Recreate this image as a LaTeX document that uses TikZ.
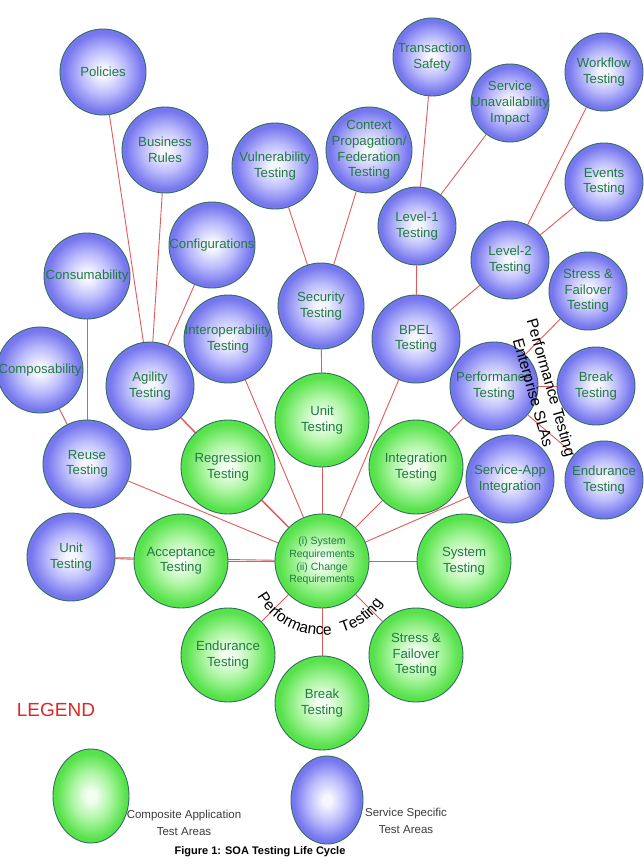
\documentclass[tikz,border=0pt]{standalone}
\usepackage{fontspec}
\setmainfont{Liberation Sans}
\usetikzlibrary{decorations.text,backgrounds,shapes.geometric}
\definecolor{bEdge}{RGB}{118,118,238}
\definecolor{bMid}{RGB}{188,188,252}
\definecolor{bIn}{RGB}{246,246,255}
\definecolor{gEdge}{RGB}{86,226,74}
\definecolor{gMid}{RGB}{170,245,160}
\definecolor{gIn}{RGB}{242,255,240}
\definecolor{ringc}{RGB}{52,108,96}
\definecolor{txtc}{RGB}{34,122,66}
\definecolor{linec}{RGB}{224,92,92}
\definecolor{legc}{RGB}{222,40,40}
\definecolor{grayt}{RGB}{60,60,60}
\pgfdeclareradialshading{bluesh}{\pgfpoint{0bp}{0bp}}{color(0bp)=(bIn); color(3bp)=(bIn); color(13bp)=(bMid); color(23bp)=(bEdge); color(50bp)=(bEdge)}
\pgfdeclareradialshading{greensh}{\pgfpoint{0bp}{0bp}}{color(0bp)=(gIn); color(3bp)=(gIn); color(13bp)=(gMid); color(23bp)=(gEdge); color(50bp)=(gEdge)}
\newcommand\arcfnt{\fontsize{15.5}{15.5}\selectfont}
\tikzset{
  bub/.style={circle, draw=ringc, line width=0.9pt, inner sep=-14pt, minimum size=#1,
              text=txtc, align=center, font=\fontsize{13.2}{15.6}\selectfont},
  bb/.style={bub=#1, shading=bluesh},
  gb/.style={bub=#1, shading=greensh},
  conn/.style={draw=linec, line width=0.9pt},
  legtxt/.style={text=grayt, align=center, font=\fontsize{11.5}{16.5}\selectfont},
}
\begin{document}
\begin{tikzpicture}[x=1pt,y=-1pt]
\useasboundingbox (0,0) rectangle (644,867);
% blue service-specific nodes
\node[bb=86pt] (pol) at (103,72) {Policies};
\node[bb=86pt] (bus) at (165,150) {Business\\Rules};
\node[bb=86pt] (vul) at (275,166) {Vulnerability\\Testing};
\node[bb=78pt] (trs) at (432,57) {Transaction\\Safety};
\node[bb=78pt] (sua) at (510,103) {Service\\Unavailability\\Impact};
\node[bb=78pt] (wfl) at (604,72) {Workflow\\Testing};
\node[bb=86pt] (ctx) at (369,150) {Context\\Propagation/\\Federation\\Testing};
\node[bb=78pt] (evt) at (604,182) {Events\\Testing};
\node[bb=78pt] (lv1) at (417,226) {Level-1\\Testing};
\node[bb=78pt] (lv2) at (510,260) {Level-2\\Testing};
\node[bb=78pt] (sfb) at (588,291) {Stress \&\\Failover\\Testing};
\node[bb=88pt] (bpl) at (416,339) {BPEL\\Testing};
\node[bb=88pt] (pfb) at (494,386) {Performance\\Testing};
\node[bb=78pt] (brb) at (596,386) {Break\\Testing};
\node[bb=86pt] (sec) at (321,306) {Security\\Testing};
\node[bb=86pt] (cfg) at (212,245) {Configurations};
\node[bb=86pt] (cns) at (87,276) {Consumability};
\node[bb=86pt] (cmp) at (40,370) {Composability};
\node[bb=88pt] (agl) at (150,386) {Agility\\Testing};
\node[bb=88pt] (itp) at (228,339) {Interoperability\\Testing};
\node[bb=88pt] (reu) at (87,464) {Reuse\\Testing};
\node[bb=88pt] (utb) at (71,557) {Unit\\Testing};
\node[bb=88pt] (sai) at (510,479) {Service-App\\Integration};
\node[bb=78pt] (enb) at (604,480) {Endurance\\Testing};
% green composite application nodes
\node[gb=94pt] (utg) at (322,420) {Unit\\Testing};
\node[gb=94pt] (reg) at (228,467) {Regression\\Testing};
\node[gb=94pt] (int) at (416,467) {Integration\\Testing};
\node[gb=94pt] (acc) at (181,561) {Acceptance\\Testing};
\node[gb=94pt, font=\fontsize{10.5}{12.7}\selectfont] (cen) at (322,561) {(i) System\\Requirements\\(ii) Change\\Requirements};
\node[gb=94pt] (sys) at (464,561) {System\\Testing};
\node[gb=94pt] (eng) at (228,655) {Endurance\\Testing};
\node[gb=94pt] (brg) at (322,703) {Break\\Testing};
\node[gb=94pt] (sfg) at (416,655) {Stress \&\\Failover\\Testing};
% connectors
\begin{pgfonlayer}{background}
\fill[white] (0,0) rectangle (644,867);
\foreach \a/\b in {pol/agl, bus/agl, cfg/agl, cns/reu, cmp/reu, agl/reg, agl/cen, itp/cen,
  vul/sec, ctx/sec, sec/utg, utg/cen, trs/lv1, sua/lv1, lv1/bpl, wfl/lv2, evt/lv2, lv2/bpl,
  bpl/cen, pfb/int, sfb/pfb, brb/pfb, enb/pfb, sai/cen, int/cen, reg/cen, reu/cen,
  utb/acc, utb/cen, acc/cen, sys/cen, cen/eng, cen/brg, cen/sfg}
  \draw[conn] (\a) -- (\b);
\end{pgfonlayer}
% curved labels
\path[decorate, decoration={text along path, text align=left, text={|\arcfnt|Performance}}]
  (cen.center) ++(151:74) arc[start angle=151, end angle=55, radius=74];
\path[decorate, decoration={text along path, text align=left, text={|\arcfnt|Testing}}]
  (cen.center) ++(74:74) arc[start angle=74, end angle=10, radius=74];
\node[rotate=-74, font=\fontsize{15.5}{15.5}\selectfont] (ptx) at (550,388) {Performance Testing};
\node[rotate=-74, font=\fontsize{15.5}{15.5}\selectfont] (esl) at (532,393) {Enterprise SLAs};
% legend
\node[text=legc, font=\fontsize{19}{19}\selectfont] (leg) at (56,710) {LEGEND};
\node[ellipse, draw=ringc, line width=0.9pt, inner sep=0pt, minimum width=76pt, minimum height=94pt, shading=greensh] (lg) at (91,796) {};
\node[ellipse, draw=ringc, line width=0.9pt, inner sep=0pt, minimum width=72pt, minimum height=88pt, shading=bluesh] (lb) at (327,800) {};
\node[legtxt] (lgt) at (184,823) {Composite Application\\Test Areas};
\node[legtxt] (lbt) at (406,821) {Service Specific\\Test Areas};
\node[font=\bfseries\fontsize{11}{11}\selectfont] (cap) at (260,852) {Figure 1: SOA Testing Life Cycle};
\end{tikzpicture}
\end{document}
